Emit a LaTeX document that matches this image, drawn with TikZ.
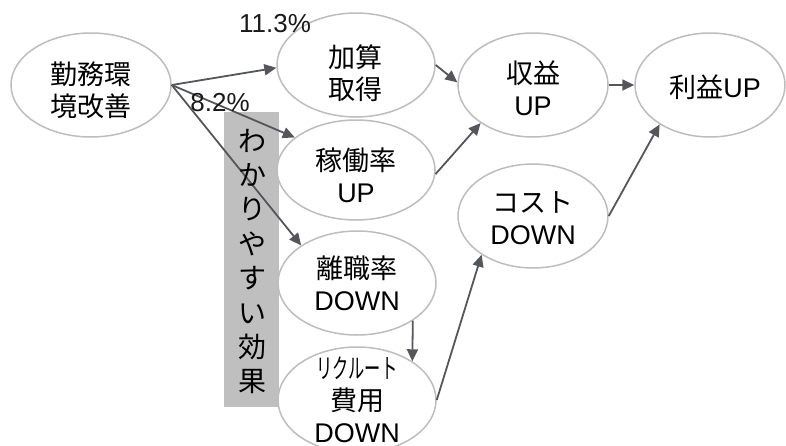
\documentclass[tikz,border=0pt]{standalone}
\usepackage{fontspec}
\usepackage{graphicx}
\setmainfont{Liberation Sans}
\newfontfamily\jp{Noto Sans CJK JP}
\usetikzlibrary{arrows.meta,shapes.geometric}
\definecolor{ovalgray}{HTML}{BDBDBD}
\definecolor{arrgray}{HTML}{53575C}
\definecolor{bargray}{HTML}{BFBFBF}
\newcommand\latn[1]{{\rmfamily #1}}
\begin{document}
\begin{tikzpicture}[x=1pt,y=-1pt,
  oval/.style={ellipse, draw=ovalgray, line width=1.5pt, fill=white, inner sep=0pt},
  txt/.style={align=center, font=\jp\fontsize{27}{32}\selectfont, inner sep=0pt, text=black},
  arr/.style={draw=arrgray, line width=1.8pt, -{Triangle[length=12pt,width=11pt]}},
  pct/.style={font=\rmfamily\fontsize{26}{30}\selectfont, inner sep=0pt, text=black!90}
]
\useasboundingbox (0,0) rectangle (786,445);
\clip (0,0) rectangle (786,445);
% gray bar
\node[fill=bargray, minimum width=55pt, minimum height=295pt, inner sep=0pt] (bar) at (251.5,259.5) {};
% ellipses
\node[oval, minimum width=160pt, minimum height=104pt] (A) at (91,85) {};
\node[oval, minimum width=158pt, minimum height=104pt] (B) at (356,65) {};
\node[oval, minimum width=158pt, minimum height=100pt] (C) at (356,170) {};
\node[oval, minimum width=158pt, minimum height=104pt] (D) at (357,283) {};
\node[oval, minimum width=158pt, minimum height=106pt] (E) at (357,400) {};
\node[oval, minimum width=150pt, minimum height=104pt] (F) at (533,85) {};
\node[oval, minimum width=150pt, minimum height=104pt] (G) at (533,216) {};
\node[oval, minimum width=150pt, minimum height=104pt] (H) at (710,85) {};
% arrows
\draw[arr] (A.east) -- (B.182);
\draw[arr] (A.east) -- (C.152);
\draw[arr] (A.east) -- (D.146);
\draw[arr] (B.east) -- (F.178);
\draw[arr] (C.-3) -- (F.216);
\draw[arr] (F.east) -- (H.west);
\draw[arr] (G.east) -- (H.218);
\draw[arr] (D.-34) -- (E.35);
\draw[arr] (E.east) -- (G.217);
% texts
\node[txt] (At) at (91,90) {勤務環\\境改善};
\node[txt] (Bt) at (355,73) {加算\\取得};
\node[txt] (Ct) at (356,175) {稼働率\\\latn{UP}};
\node[txt] (Dt) at (357,283.5) {離職率\\\latn{DOWN}};
\node[txt] (Et) at (357,400) {\scalebox{0.6}[1]{リクルート}\\費用\\\latn{DOWN}};
\node[txt] (Ft) at (533,88) {収益\\\latn{UP}};
\node[txt] (Gt) at (533,218.5) {コスト\\\latn{DOWN}};
\node[txt] (Ht) at (715,87) {利益\latn{UP}};
\node[txt, font=\jp\fontsize{28}{34.4}\selectfont] (bart) at (252,261.5) {わ\\か\\り\\や\\す\\い\\効\\果};
\node[pct] (p1) at (275,24) {11.3\%};
\node[pct] (p2) at (220,103) {8.2\%};
\end{tikzpicture}
\end{document}
